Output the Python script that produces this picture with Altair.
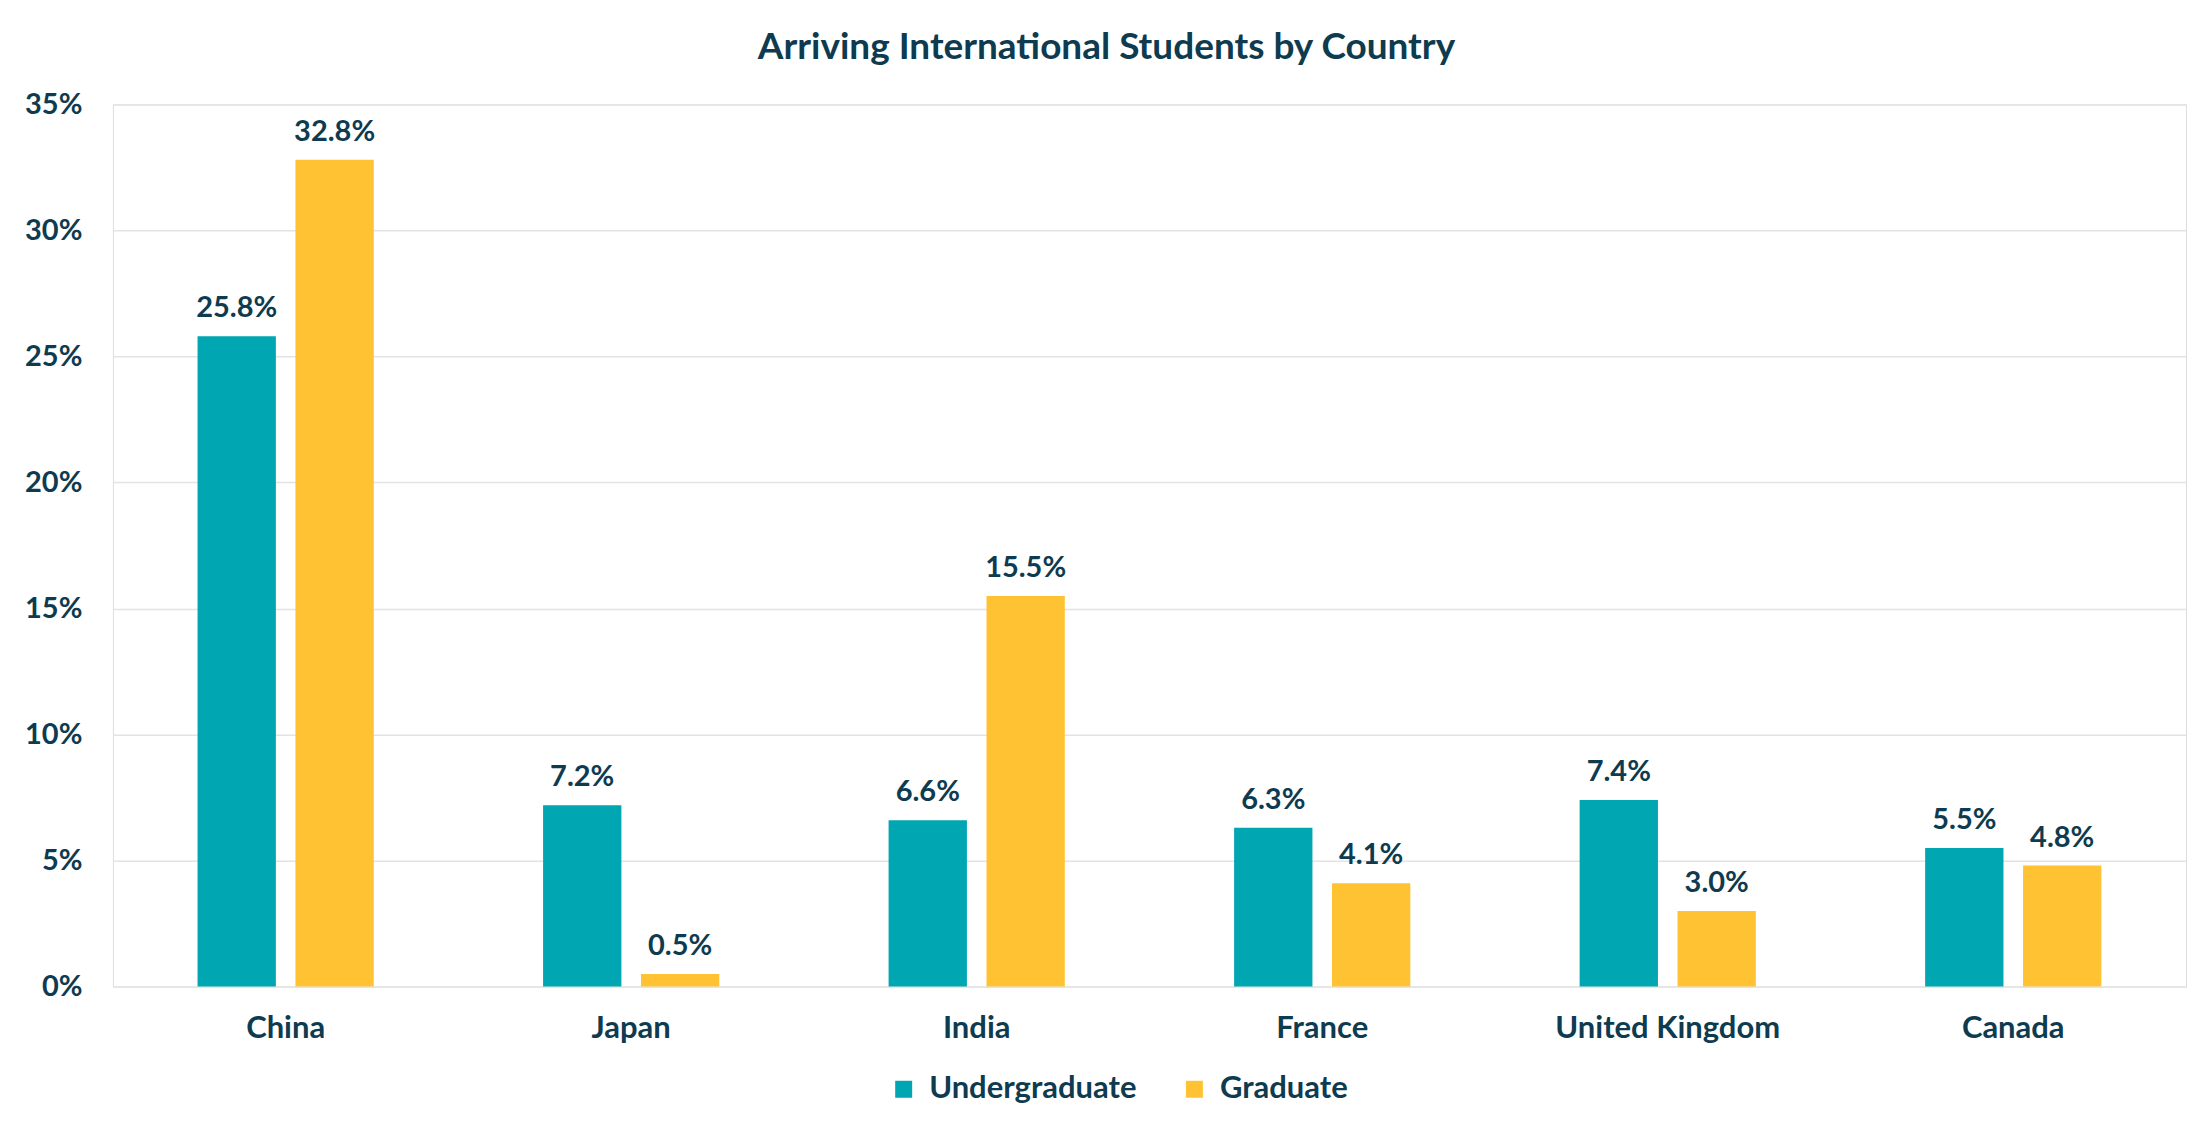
import altair as alt
import pandas as pd

countries = ["China", "Japan", "India", "France", "United Kingdom", "Canada"]
undergraduate = [25.8, 7.2, 6.6, 6.3, 7.4, 5.5]
graduate = [32.8, 0.5, 15.5, 4.1, 3.0, 4.8]
series = ["Undergraduate", "Graduate"]
colors = ["#00A6B2", "#FFC233"]
y_ticks = [0, 5, 10, 15, 20, 25, 30, 35]

rows = []
for i, c in enumerate(countries):
    rows.append({"country": c, "level": series[0], "value": undergraduate[i]})
    rows.append({"country": c, "level": series[1], "value": graduate[i]})
df = pd.DataFrame(rows)
df["label"] = df["value"].map(lambda v: f"{v:.1f}%")

FONT = "Lato"
TEXT = "#0E3B4F"
GRID = "#E3E3E3"

x_enc = alt.X(
    "country:N",
    sort=countries,
    scale=alt.Scale(paddingInner=0.49, paddingOuter=0.245),
    axis=alt.Axis(
        title=None,
        labelAngle=0,
        ticks=False,
        tickSize=0,
        domain=False,
        labelPadding=51,
        labelBaseline="alphabetic",
        labelFont=FONT,
        labelFontSize=31,
        labelFontWeight="bold",
        labelColor=TEXT,
        labelLimit=0,
    ),
)
xo_enc = alt.XOffset("level:N", sort=series, scale=alt.Scale(paddingInner=0.2, paddingOuter=0))
y_enc = alt.Y(
    "value:Q",
    scale=alt.Scale(domain=[0, 35], nice=False),
    axis=alt.Axis(
        title=None,
        values=y_ticks,
        labelExpr="datum.value + '%'",
        ticks=False,
        tickSize=0,
        domain=False,
        labelPadding=31,
        labelFont=FONT,
        labelFontSize=29,
        labelFontWeight="bold",
        labelColor=TEXT,
        gridColor=GRID,
        gridWidth=1.5,
    ),
)

bars = alt.Chart(df).mark_bar().encode(
    x=x_enc,
    xOffset=xo_enc,
    y=y_enc,
    color=alt.Color(
        "level:N",
        sort=series,
        scale=alt.Scale(domain=series, range=colors),
        legend=alt.Legend(
            title=None,
            orient="none",
            direction="horizontal",
            legendX=776,
            legendY=970,
            symbolType="square",
            symbolSize=289,
            symbolStrokeWidth=0,
            labelFont=FONT,
            labelFontSize=31,
            labelFontWeight="bold",
            labelColor=TEXT,
            labelOffset=10,
            labelLimit=0,
            columnPadding=42,
        ),
    ),
)

labels = alt.Chart(df).mark_text(
    baseline="alphabetic",
    dy=-19,
    font=FONT,
    fontSize=29,
    fontWeight="bold",
    color=TEXT,
).encode(
    x=alt.X("country:N", sort=countries),
    xOffset=alt.XOffset("level:N", sort=series),
    y=alt.Y("value:Q"),
    text="label:N",
)

chart = (
    alt.layer(bars, labels)
    .properties(
        width=2075,
        height=883,
        padding={"left": 105, "top": 96, "right": 14, "bottom": 125},
        autosize=alt.AutoSizeParams(type="none"),
        title=alt.TitleParams(
            "Arriving International Students by Country",
            font=FONT,
            fontSize=37,
            fontWeight="bold",
            color=TEXT,
            anchor="middle",
            frame="group",
            baseline="alphabetic",
            offset=1,
            dx=-43,
            dy=7,
        ),
    )
    .configure_view(stroke=None)
    .configure(background="white")
)

chart.save("out.html", embed_options={"renderer": "svg", "actions": False})
